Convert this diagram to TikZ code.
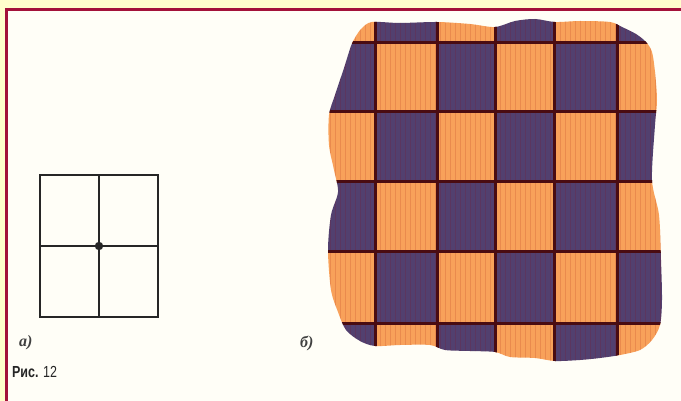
\documentclass[tikz,border=0pt]{standalone}
\usepackage{fontspec}
\setmainfont{Liberation Sans}
\newfontfamily\serifit{Liberation Serif}
\begin{document}
\begin{tikzpicture}[x=1pt,y=-1pt,
  gridline/.style={line width=1.6pt,draw=black!85},
  checkline/.style={line width=3pt,draw=lineMaroon},
  lbl/.style={inner sep=0pt,anchor=west}]
\definecolor{bgYellow}{HTML}{FFFFCC}
\definecolor{paper}{HTML}{FFFEF7}
\definecolor{frameRed}{HTML}{A3123A}
\definecolor{cellOrange}{HTML}{F8A15A}
\definecolor{cellPurple}{HTML}{52406F}
\definecolor{lineMaroon}{HTML}{4A0C12}
\useasboundingbox (0,0) rectangle (681,401);
% background and frame
\fill[bgYellow] (0,0) rectangle (681,401);
\fill[paper] (5,8) rectangle (681,401);
\fill[frameRed] (5,8) rectangle (681,11);
\fill[frameRed] (5,8) rectangle (8,401);
% figure a
\node[draw=black!85,line width=1.6pt,minimum width=118pt,minimum height=142pt,inner sep=0pt] (sq) at (99,246) {};
\draw[gridline] (sq.north) -- (sq.south);
\draw[gridline] (sq.west) -- (sq.east);
\fill[black!85] (sq.center) circle (4.2);
\node[lbl,font=\serifit\bfseries\itshape\fontsize{16}{16}\selectfont,text=black!75] (la) at (19,343) {а)};
\node[lbl,font=\fontsize{16}{16}\selectfont,text=black!85,xscale=0.78] (cap) at (12,372) {\textbf{Рис.} 12};
% figure b
\node[lbl,font=\serifit\bfseries\itshape\fontsize{16}{16}\selectfont,text=black!75] (lb) at (300,343) {б)};
\begin{scope}
\clip plot[smooth cycle,tension=0.5] coordinates {
 (362,28) (372,22) (400,23) (437,22) (470,24) (495,27) (515,21) (535,19)
 (555,22) (580,21) (610,22) (622,27) (636,34) (646,42) (652,52) (655,72)
 (657,100) (655,125) (652,180) (659,215) (661,260) (662,300) (660,325)
 (652,340) (640,350) (620,355) (600,358) (580,360) (555,361) (535,358)
 (510,357) (495,352) (470,351) (445,350) (430,345) (400,345) (375,346)
 (360,341) (346,330) (338,312) (331,290) (328,250) (331,215) (338,192)
 (334,170) (329,145) (329,115) (335,95) (344,68) (351,46) (356,36)};
\foreach \xa/\xb [count=\c from 0] in {320/375,375/437,437/495,495/554,554/617,617/670}{
  \foreach \ya/\yb [count=\r from 0] in {15/43,43/112,112/182,182/252,252/323,323/365}{
    \pgfmathtruncatemacro\cellpar{mod(\r+\c,2)}
    \ifnum\cellpar=0
      \fill[cellOrange] (\xa,\ya) rectangle (\xb,\yb);
    \else
      \fill[cellPurple] (\xa,\ya) rectangle (\xb,\yb);
    \fi
  }
}
\draw[step=5,line width=0.5pt,draw=red!60!black,opacity=0.14] (318,13) grid (672,367);
\foreach \xv in {375,437,495,554,617}{\draw[checkline] (\xv,15) -- (\xv,365);}
\foreach \yv in {43,112,182,252,323}{\draw[checkline] (320,\yv) -- (670,\yv);}
\end{scope}
\end{tikzpicture}
\end{document}
